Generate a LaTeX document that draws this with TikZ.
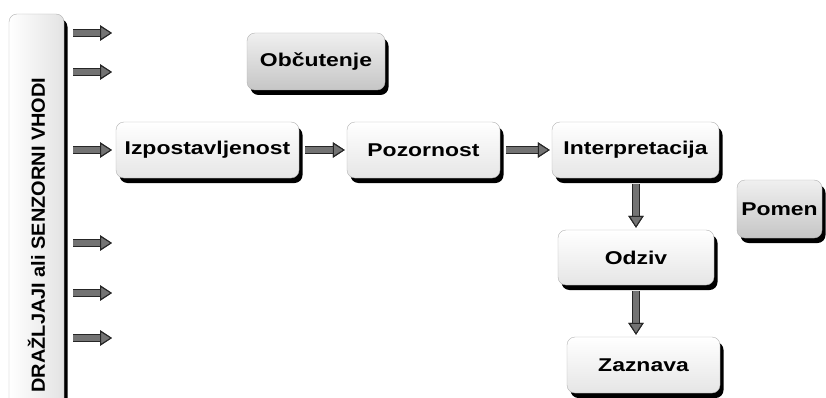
\documentclass[tikz,border=0pt]{standalone}
\usepackage{fontspec}
\usetikzlibrary{arrows.meta}
\newfontfamily\boxfont{Liberation Sans}[FakeStretch=1.24]
\newfontfamily\barfont{Liberation Sans}[FakeStretch=1.05]

\tikzset{
  stage/.style={draw=gray!60, rounded corners=8pt, inner sep=0pt,
    top color=white, bottom color=gray!20,
    preaction={fill=black, transform canvas={xshift=3.5pt, yshift=-5pt}},
    font=\boxfont\bfseries\fontsize{18.5}{20}\selectfont},
  greystage/.style={stage, top color=gray!12, bottom color=gray!45},
  inbar/.style={stage, left color=white, right color=gray!22,
    font=\barfont\bfseries\fontsize{19}{20}\selectfont},
  fatarrow/.style={line width=6pt, draw=black!55,
    -{Triangle[width=15pt,length=12pt,fill=black!55,color=black!85,line width=1pt]},
    preaction={draw=black!85, line width=8pt, -{Triangle[width=15pt,length=12pt]}}}
}

\begin{document}
\begin{tikzpicture}[x=1pt,y=1pt]
    \useasboundingbox (0,0) rectangle (826,397);

    % Boxes
      \node[inbar, minimum width=55pt, minimum height=442pt] (bar) at (36.5,162)
        {\rotatebox{90}{DRAŽLJAJI ali SENZORNI VHODI}};
      \node[greystage, minimum width=138pt, minimum height=57pt] (obc) at (316,335.5) {Občutenje};
      \node[stage, minimum width=183pt, minimum height=56pt] (izp) at (207.5,247) {Izpostavljenost};
      \node[stage, minimum width=153pt, minimum height=56pt] (poz) at (423.5,247) {Pozornost};
      \node[stage, minimum width=167pt, minimum height=56pt] (int) at (635.5,247) {Interpretacija};
      \node[greystage, minimum width=85pt, minimum height=58pt] (pom) at (779.5,188) {Pomen};
      \node[stage, minimum width=156pt, minimum height=55pt] (odz) at (636,139.5) {Odziv};
      \node[stage, minimum width=153pt, minimum height=56pt] (zaz) at (643.5,32) {Zaznava};

      % Inputs
      \foreach \y [count=\i] in {364,325,247,154,104,59}{
        \coordinate (in\i) at (112,\y);
        \draw[fatarrow, shorten <=9pt] (bar.east |- in\i) -- (in\i);
      }

      % Arrows
      \draw[fatarrow, shorten <=6pt, shorten >=2pt] (izp) -- (poz);
      \draw[fatarrow, shorten <=6pt, shorten >=2pt] (poz) -- (int);
      \draw[fatarrow, shorten <=6pt, shorten >=2pt] (int.south -| odz.north) -- (odz.north);
      \draw[fatarrow, shorten <=6pt, shorten >=2pt] (odz.south) -- (odz.south |- zaz.north);
\end{tikzpicture}
\end{document}
